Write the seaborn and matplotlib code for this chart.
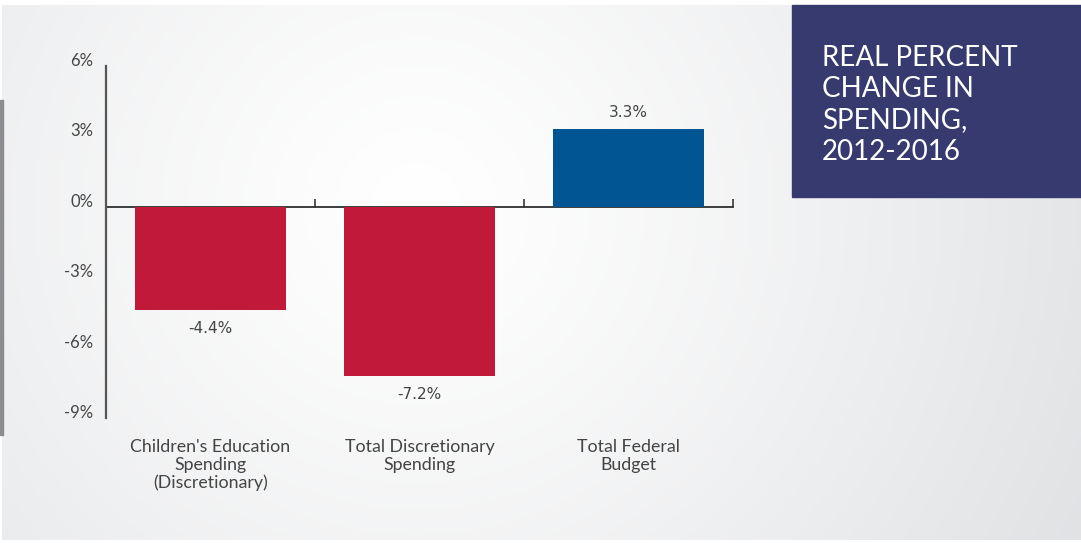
import numpy as np
import pandas as pd
import matplotlib
matplotlib.use("Agg")
import matplotlib.pyplot as plt
import seaborn as sns

# Spending categories and their real percent change, 2012-2016
categories = ["Children's Education\nSpending\n(Discretionary)",
              "Total Discretionary\nSpending",
              "Total Federal\nBudget"]
changes = [-4.4, -7.2, 3.3]
value_labels = ["-4.4%", "-7.2%", "3.3%"]
bar_colors = ["#c1193a", "#c1193a", "#005592"]
y_ticks = [6, 3, 0, -3, -6, -9]
y_tick_labels = ["6%", "3%", "0%", "-3%", "-6%", "-9%"]
title_text = "REAL PERCENT\nCHANGE IN\nSPENDING,\n2012-2016"

sns.set_theme(style="white")
plt.rcParams["font.family"] = ["Lato", "DejaVu Sans"]

W, H = 1081, 543
fig = plt.figure(figsize=(W / 100, H / 100), dpi=100, facecolor="white")

# soft radial background panel, brightest behind the middle bar
bg = fig.add_axes([2 / W, 3 / H, 1 - 2 / W, 1 - 8 / H], zorder=-5)
gx, gy = np.meshgrid(np.linspace(0, W, 400), np.linspace(0, H, 200))
r = np.sqrt((gx - 415) ** 2 + (gy - 205) ** 2) / 750
t = np.clip(r, 0, 1) ** 1.2
base = np.array([1.0, 1.0, 1.0])
tint = np.array([0.880, 0.886, 0.895])
rgb = base[None, None, :] + (tint - base)[None, None, :] * t[..., None]
bg.imshow(rgb, aspect="auto", extent=[0, W, H, 0])
bg.set_axis_off()

# thin grey strip on the left edge
fig.patches.append(plt.Rectangle((0, 1 - 435 / H), 2.5 / W, 335 / H,
                                 transform=fig.transFigure, color="#8b8b90",
                                 zorder=-4))

ax = fig.add_axes([106 / W, 1 - 418 / H, (733 - 106) / W, (418 - 66) / H])
ax.set_facecolor("none")

df = pd.DataFrame({"category": categories, "change": changes})
sns.barplot(data=df, x="category", y="change", hue="category",
            palette=bar_colors, width=0.72, saturation=1, legend=False,
            linewidth=0, ax=ax, zorder=2)

ax.set_xlim(-0.5, 2.5)
ax.set_ylim(-9, 6)
ax.set_xlabel("")
ax.set_ylabel("")

for s in ["top", "right", "bottom"]:
    ax.spines[s].set_visible(False)
ax.spines["left"].set_color("#555555")
ax.spines["left"].set_linewidth(1.6)

ax.set_yticks(y_ticks)
ax.set_yticklabels(y_tick_labels, fontsize=12, color="#444444")
ax.tick_params(axis="y", length=0, pad=9)
for lbl in ax.get_yticklabels():
    lbl.set_verticalalignment("baseline")

ax.set_xticks(range(len(categories)))
ax.set_xticklabels(categories, fontsize=12.8, color="#444444",
                   linespacing=1.15)
ax.tick_params(axis="x", length=0, pad=15)

# zero line with category separators
zero = ax.secondary_xaxis(9 / 15)
zero.spines["bottom"].set_color("#555555")
zero.spines["bottom"].set_linewidth(1.6)
zero.set_xticks([0.5, 1.5, 2.5])
zero.set_xticklabels([])
zero.tick_params(axis="x", direction="out", length=6, width=1.4,
                 color="#555555")

for i, (v, txt) in enumerate(zip(changes, value_labels)):
    off = 0.7 if v >= 0 else -0.8
    ax.text(i, v + off, txt, ha="center", va="center", fontsize=11,
            color="#444444", family=["DejaVu Sans"])

# title panel
fig.patches.append(plt.Rectangle((792 / W, 1 - 197 / H), (W - 792) / W,
                                 192 / H, transform=fig.transFigure,
                                 color="#373a6f", zorder=1))
fig.text(822 / W, 1 - 45 / H, title_text, ha="left", va="top",
         fontsize=20, color="white", linespacing=1.25)

fig.savefig("out.png", dpi=100, facecolor="white")
